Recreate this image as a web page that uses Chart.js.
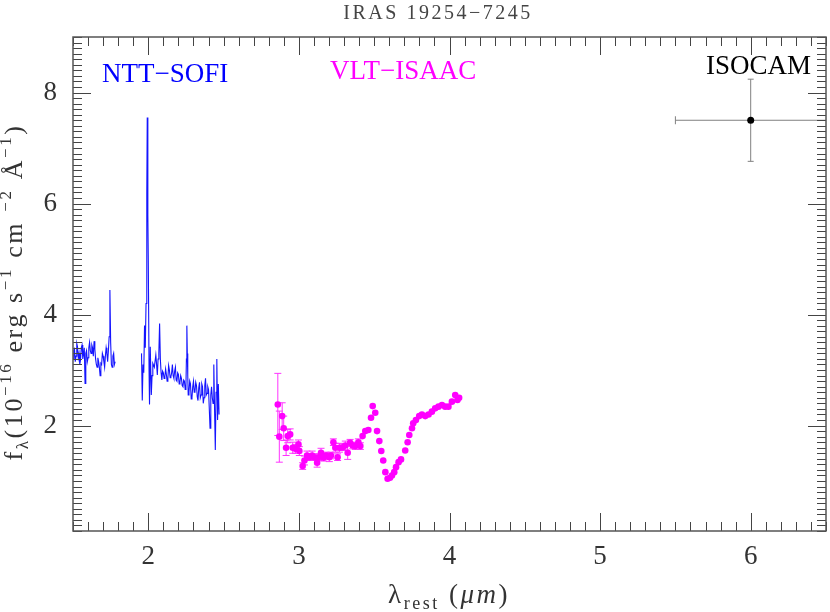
<!DOCTYPE html>
<html>
<head>
<meta charset="utf-8">
<script src="https://cdn.jsdelivr.net/npm/chart.js@4.4.0/dist/chart.umd.min.js"></script>
<style>
  body { margin: 0; background: #fff; }
  #wrap { width: 830px; height: 612px; position: relative; }
</style>
</head>
<body>
<div id="wrap"><canvas id="myChart"></canvas></div>
<script>
'use strict';

// NTT-SOFI spectrum (null = gap between the two bands)
let sofiX = [1.500,1.505,1.510,1.515,1.520,1.525,1.530,1.535,1.540,1.545,1.550,1.555,1.560,1.565,1.570,1.575,1.580,1.585,1.590,1.595,1.600,1.605,1.610,1.615,1.620,1.625,1.630,1.635,1.640,1.645,1.650,1.655,1.660,1.665,1.670,1.675,1.680,1.685,1.690,1.695,1.700,1.705,1.710,1.715,1.720,1.725,1.730,1.735,1.740,1.745,1.750,1.755,1.760,1.765,1.770,1.775,1.780,
  1.870,
  1.955,1.960,1.965,1.970,1.975,1.980,1.985,1.990,1.993,1.997,2.000,2.005,2.008,2.013,2.020,2.025,2.030,2.040,2.050,2.055,2.060,2.065,2.070,2.075,
  2.080,2.085,2.090,2.095,2.100,2.105,2.110,2.115,2.120,2.125,2.130,2.135,2.140,2.145,2.150,2.155,2.160,2.165,2.170,2.175,2.180,2.185,2.190,2.195,2.200,2.205,2.210,2.215,2.220,2.225,2.230,2.235,2.240,2.245,2.250,2.253,2.256,2.259,2.262,2.265,2.270,2.275,2.280,2.285,2.290,2.295,2.300,2.305,2.310,2.315,2.320,2.325,2.330,2.335,2.340,2.345,2.350,2.355,2.360,2.365,2.370,2.375,2.380,2.385,2.390,2.395,2.400,2.405,2.410,2.415,2.420,2.425,2.430,2.435,2.440,2.445,2.450,2.455,2.460,2.465,2.470];
let sofiY = [3.20,3.35,3.38,3.15,3.25,3.48,3.42,3.22,3.30,3.10,3.18,3.40,3.45,3.20,3.28,3.40,2.76,3.30,3.35,3.15,3.22,3.40,3.50,3.35,3.30,3.45,3.40,3.25,3.52,3.38,3.20,3.10,3.05,3.22,3.15,3.05,2.90,3.12,3.10,3.30,3.25,3.15,3.05,3.25,3.40,3.30,3.15,3.35,3.60,4.44,3.50,3.10,3.05,3.25,3.30,3.10,3.15,
  null,
  3.30,2.45,3.10,2.95,3.80,3.40,4.20,6.20,7.55,5.80,4.95,3.00,2.38,3.42,2.55,2.90,3.12,3.05,3.27,3.10,2.91,3.20,3.30,3.84,
  3.20,2.95,2.82,2.98,2.95,2.85,2.88,3.02,2.92,2.80,2.85,3.08,3.00,2.86,2.88,2.95,3.10,2.90,2.85,2.98,3.05,2.82,2.80,2.95,2.92,2.75,2.78,2.90,2.85,2.72,2.70,2.82,2.80,2.65,2.72,3.20,3.80,3.30,2.90,2.55,2.60,2.80,2.75,2.48,2.50,2.70,2.80,2.60,2.62,2.78,2.72,2.52,2.45,2.68,2.78,2.50,2.55,2.75,2.70,2.40,2.50,2.72,2.85,2.55,2.58,2.70,2.65,2.30,1.95,2.55,2.70,2.50,2.40,3.10,2.30,1.56,2.60,3.20,2.10,2.75,2.20];

// VLT-ISAAC points and y errors
let isaacX = [2.860,2.870,2.889,2.899,2.915,2.926,2.942,2.959,2.977,2.997,3.003,3.025,3.037,3.054,3.070,3.088,3.103,3.121,3.131,3.147,3.165,3.180,3.202,3.213,3.229,3.242,3.257,3.269,3.290,3.308,3.324,3.340,3.357,3.375,3.395,3.408,3.423,3.441,3.461,3.479,3.490,3.507,3.519,3.534,3.547,3.560,3.574,3.589,3.605,3.618,3.633,3.645,3.662,3.678,3.706,3.722,3.733,3.751,3.759,3.777,3.799,3.817,3.839,3.861,3.883,3.905,3.927,3.950,3.971,3.993,4.016,4.038,4.053,4.064];
let isaacY = [2.38,1.80,2.17,1.95,1.60,1.81,1.84,1.60,1.58,1.66,1.54,1.27,1.37,1.46,1.43,1.46,1.43,1.33,1.43,1.51,1.42,1.46,1.43,1.46,1.70,1.60,1.43,1.60,1.61,1.64,1.51,1.69,1.64,1.63,1.70,1.63,1.81,1.90,1.92,2.14,2.35,2.23,1.90,1.72,1.54,1.37,1.16,1.04,1.06,1.10,1.16,1.25,1.34,1.39,1.55,1.70,1.83,1.95,2.04,2.10,2.17,2.20,2.17,2.20,2.25,2.31,2.34,2.37,2.34,2.34,2.43,2.55,2.46,2.50];
let isaacErr = [0.56,0.46,0.24,0.22,0.14,0.12,0.10,0.10,0.08,0.08,0.08,0.06,0.08,0.08,0.06,0.08,0.06,0.08,0.06,0.08,0.06,0.06,0.08,0.06,0.06,0.08,0.06,0.08,0.06,0.08,0.12,0.06,0.06,0.06,0.06,0.06,0,0,0,0,0,0,0,0,0,0,0,0,0,0,0,0,0,0,0,0,0,0,0,0,0,0,0,0,0,0,0,0,0,0,0,0,0,0];

// ISOCAM photometry
let isoX = [6.0];
let isoY = [7.5];
let isoXErr = [0.5];
let isoYErr = [0.74];

let xTicks = [2, 3, 4, 5, 6];
let yTicks = [2, 4, 6, 8];

let serif = "'Liberation Serif', 'Times New Roman', serif";

function toPoints(xs, ys){
  return xs.map((x, i) => ({x: x, y: ys[i]}));
}

// error bars drawn under the points
let errorBars = {
  id: 'errorBars',
  beforeDatasetsDraw(chart){
    let ctx = chart.ctx;
    let xs = chart.scales.x;
    let ys = chart.scales.y;
    ctx.save();
    ctx.lineWidth = 1;
    ctx.strokeStyle = '#ff33ff';
    ctx.beginPath();
    for (let i = 0; i < isaacX.length; i++) {
      if (!isaacErr[i]) continue;
      let px = xs.getPixelForValue(isaacX[i]);
      let top = ys.getPixelForValue(isaacY[i] + isaacErr[i]);
      let bot = ys.getPixelForValue(isaacY[i] - isaacErr[i]);
      ctx.moveTo(px, top); ctx.lineTo(px, bot);
      ctx.moveTo(px - 3.5, top); ctx.lineTo(px + 3.5, top);
      ctx.moveTo(px - 3.5, bot); ctx.lineTo(px + 3.5, bot);
    }
    ctx.stroke();

    ctx.strokeStyle = '#808080';
    ctx.beginPath();
    for (let i = 0; i < isoX.length; i++) {
      let px = xs.getPixelForValue(isoX[i]);
      let py = ys.getPixelForValue(isoY[i]);
      let l = xs.getPixelForValue(isoX[i] - isoXErr[i]);
      let r = xs.getPixelForValue(isoX[i] + isoXErr[i]);
      let t = ys.getPixelForValue(isoY[i] + isoYErr[i]);
      let b = ys.getPixelForValue(isoY[i] - isoYErr[i]);
      ctx.moveTo(l, py); ctx.lineTo(r, py);
      ctx.moveTo(l, py - 4); ctx.lineTo(l, py + 4);
      ctx.moveTo(px, t); ctx.lineTo(px, b);
      ctx.moveTo(px - 3, t); ctx.lineTo(px + 3, t);
      ctx.moveTo(px - 3, b); ctx.lineTo(px + 3, b);
    }
    ctx.stroke();
    ctx.restore();
  }
};

function drawPieces(ctx, pieces, cx, y, spacing){
  let total = 0;
  ctx.letterSpacing = spacing + 'px';
  pieces.forEach(p => {
    ctx.font = (p.italic ? 'italic ' : '') + p.size + 'px ' + serif;
    total += ctx.measureText(p.t).width;
  });
  let x = cx - total / 2;
  pieces.forEach(p => {
    ctx.font = (p.italic ? 'italic ' : '') + p.size + 'px ' + serif;
    ctx.fillText(p.t, x, y + (p.dy || 0));
    x += ctx.measureText(p.t).width;
  });
  ctx.letterSpacing = '0px';
}

// frame, inward ticks on all sides, title and axis labels
let frameAndText = {
  id: 'frameAndText',
  afterDraw(chart){
    let ctx = chart.ctx;
    let a = chart.chartArea;
    let xs = chart.scales.x;
    let ys = chart.scales.y;
    ctx.save();
    ctx.strokeStyle = '#444';
    ctx.lineWidth = 1;
    ctx.beginPath();
    for (let i = 15; i <= 65; i++) {
      let px = Math.round(xs.getPixelForValue(i / 10)) + 0.5;
      let len = (i % 10 === 0) ? 18 : 9;
      ctx.moveTo(px, a.bottom); ctx.lineTo(px, a.bottom - len);
      ctx.moveTo(px, a.top); ctx.lineTo(px, a.top + len);
    }
    for (let i = 1; i <= 90; i++) {
      let py = Math.round(ys.getPixelForValue(i / 10)) + 0.5;
      let len = (i % 20 === 0) ? 18 : 9;
      ctx.moveTo(a.left, py); ctx.lineTo(a.left + len, py);
      ctx.moveTo(a.right, py); ctx.lineTo(a.right - len, py);
    }
    ctx.stroke();
    ctx.lineWidth = 1.5;
    ctx.strokeStyle = '#555';
    ctx.strokeRect(a.left, a.top, a.right - a.left, a.bottom - a.top);

    // labels inside the plot
    ctx.textBaseline = 'alphabetic';
    ctx.textAlign = 'left';
    ctx.font = '27px ' + serif;
    ctx.fillStyle = '#0000ff';
    ctx.fillText('NTT\u2212SOFI', 102, 82);
    ctx.fillStyle = '#ff00ff';
    ctx.fillText('VLT\u2212ISAAC', 330, 79);
    ctx.fillStyle = '#000';
    ctx.fillText('ISOCAM', 706, 74);

    // title
    ctx.fillStyle = '#444';
    drawPieces(ctx, [{t: 'IRAS 19254\u22127245', size: 20}], 438, 19, 2.5);

    // x axis label
    ctx.fillStyle = '#333';
    drawPieces(ctx, [
      {t: '\u03bb', size: 27},
      {t: 'rest', size: 18, dy: 6},
      {t: ' (', size: 27},
      {t: '\u03bcm', size: 27, italic: true},
      {t: ')', size: 27}
    ], 449, 603, 2.5);

    // y axis label, rotated
    ctx.translate(22, 292);
    ctx.rotate(-Math.PI / 2);
    drawPieces(ctx, [
      {t: 'f', size: 26},
      {t: '\u03bb', size: 17, dy: 6},
      {t: '(10', size: 26},
      {t: '\u221216', size: 17, dy: -11},
      {t: ' erg s', size: 26},
      {t: '\u22121', size: 17, dy: -11},
      {t: ' cm ', size: 26},
      {t: '\u22122', size: 17, dy: -11},
      {t: ' \u00c5', size: 26},
      {t: '\u22121', size: 17, dy: -11},
      {t: ')', size: 26}
    ], 0, 0, 2.6);
    ctx.restore();
  }
};

let ctx = document.getElementById('myChart').getContext('2d');
let chart = new Chart(ctx, {
  type: 'scatter',
  data: {
    datasets: [{
      label: 'NTT-SOFI',
      data: toPoints(sofiX, sofiY),
      showLine: true,
      spanGaps: false,
      borderColor: '#1414ff',
      borderWidth: 1.1,
      pointRadius: 0,
      tension: 0
    }, {
      label: 'VLT-ISAAC',
      data: toPoints(isaacX, isaacY),
      backgroundColor: '#ff00ff',
      borderWidth: 0,
      pointRadius: 3.3
    }, {
      label: 'ISOCAM',
      data: toPoints(isoX, isoY),
      backgroundColor: '#000',
      borderWidth: 0,
      pointRadius: 3.5
    }]
  },
  options: {
    responsive: true,
    maintainAspectRatio: false,
    animation: false,
    layout: { padding: { top: 37, right: 2, left: 0, bottom: 0 } },
    plugins: {
      legend: { display: false },
      tooltip: { enabled: false },
      title: { display: false }
    },
    scales: {
      x: {
        type: 'linear',
        min: 1.5,
        max: 6.5,
        grid: { display: false, drawTicks: false },
        border: { display: false },
        afterBuildTicks: s => { s.ticks = xTicks.map(v => ({value: v})); },
        afterFit: s => { s.height = 81; },
        ticks: { color: '#333', padding: 10, font: { family: serif, size: 27 } }
      },
      y: {
        type: 'linear',
        min: 0.1,
        max: 9,
        grid: { display: false, drawTicks: false },
        border: { display: false },
        afterBuildTicks: s => { s.ticks = yTicks.map(v => ({value: v})); },
        afterFit: s => { s.width = 73; },
        ticks: { color: '#333', padding: 16, font: { family: serif, size: 27 } }
      }
    }
  },
  plugins: [errorBars, frameAndText]
});
</script>
</body>
</html>
